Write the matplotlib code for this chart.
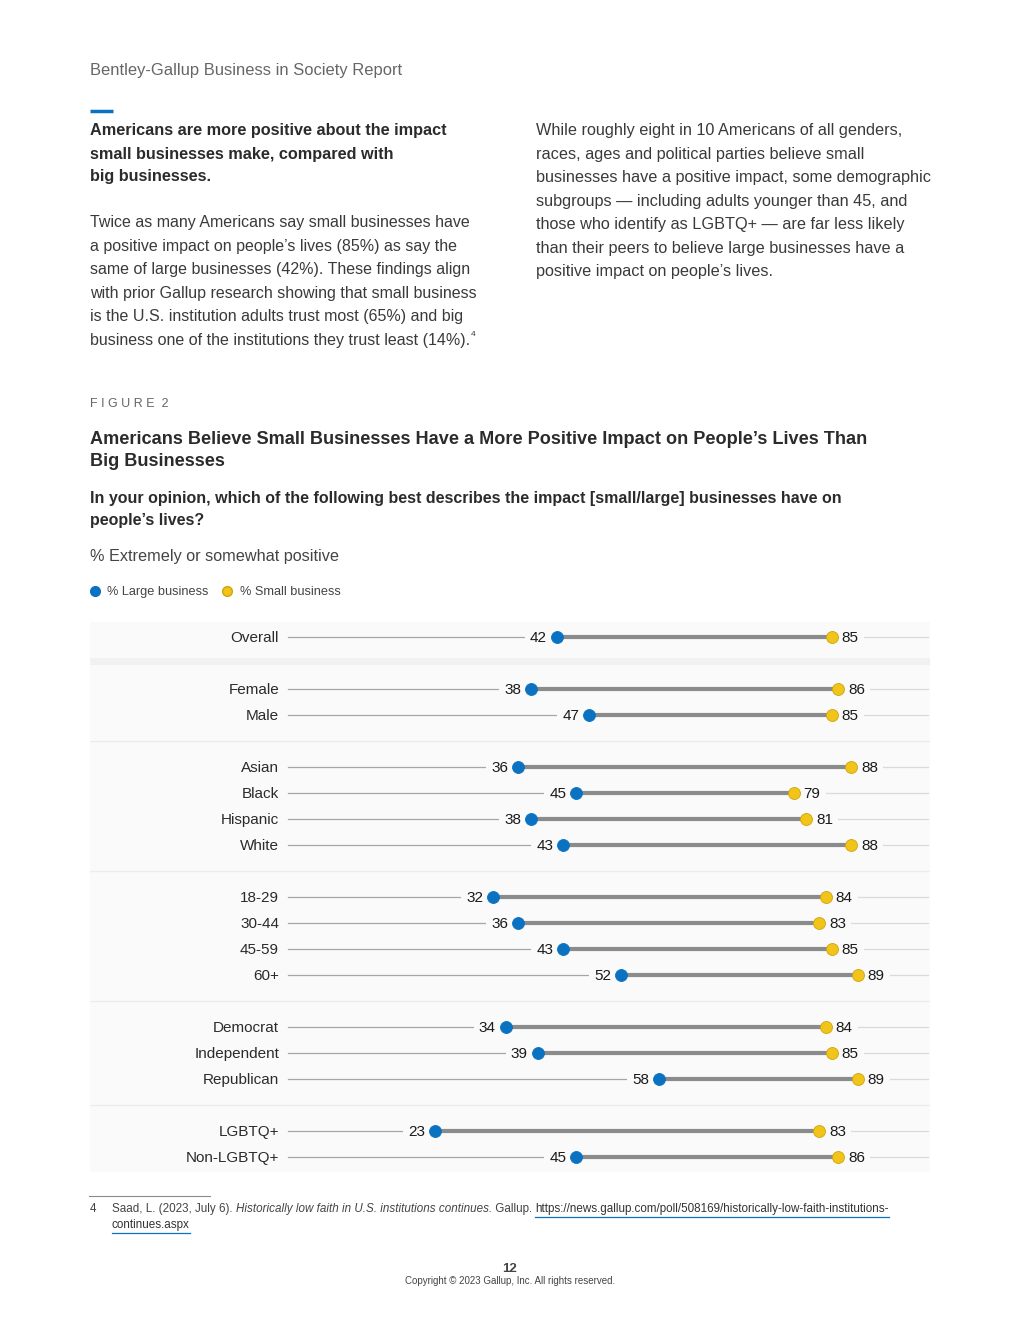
import matplotlib
matplotlib.use("Agg")
import matplotlib.pyplot as plt

plt.rcParams['font.family'] = ['Liberation Sans', 'DejaVu Sans']

# ---------------- data ----------------
categories = ["Overall", "Female", "Male", "Asian", "Black", "Hispanic", "White",
              "18-29", "30-44", "45-59", "60+", "Democrat", "Independent",
              "Republican", "LGBTQ+", "Non-LGBTQ+"]
large_business = [42, 38, 47, 36, 45, 38, 43, 32, 36, 43, 52, 34, 39, 58, 23, 45]
small_business = [85, 86, 85, 88, 79, 81, 88, 84, 83, 85, 89, 84, 85, 89, 83, 86]
group_sizes = [1, 2, 4, 4, 3, 2]
series_names = ["% Large business", "% Small business"]

BLUE = "#0b72c2"
YELLOW = "#f0c419"
YELLOW_EDGE = "#cfa40a"
BAND = "#fafafa"
TXT = "#2b2b2b"

W, H = 1020, 1320
fig = plt.figure(figsize=(W / 100, H / 100), dpi=100)
fig.patch.set_facecolor("white")

page = fig.add_axes([0, 0, 1, 1])
page.set_xlim(0, W)
page.set_ylim(H, 0)
page.axis("off")

fig.canvas.draw()
r = fig.canvas.get_renderer()


def right_edge(t):
    bb = t.get_window_extent(r)
    return page.transData.inverted().transform((bb.x1, 0))[0]


def left_edge(t):
    bb = t.get_window_extent(r)
    return page.transData.inverted().transform((bb.x0, 0))[0]


# ---------------- page text ----------------
page.text(90, 71, "Bentley-Gallup Business in Society Report", fontsize=11.9,
          color="#666666", va="center")
page.plot([90, 113], [111, 111], color=BLUE, lw=2.5, solid_capstyle="butt")

bold_lines = ["Americans are more positive about the impact",
              "small businesses make, compared with",
              "big businesses."]
for i, t in enumerate(bold_lines):
    page.text(90, 131 + 23 * i, t, fontsize=11.7, fontweight="bold", color=TXT,
              va="center")

left_body = ["Twice as many Americans say small businesses have",
             "a positive impact on people\u2019s lives (85%) as say the",
             "same of large businesses (42%). These findings align",
             "with prior Gallup research showing that small business",
             "is the U.S. institution adults trust most (65%) and big",
             "business one of the institutions they trust least (14%)."]
last = None
for i, t in enumerate(left_body):
    last = page.text(90, 223 + 23.4 * i, t, fontsize=11.55, color="#3a3a3a",
                     va="center")
fig.canvas.draw()
page.text(right_edge(last) + 1, 335, "4", fontsize=6, color="#3a3a3a", va="center")

right_body = ["While roughly eight in 10 Americans of all genders,",
              "races, ages and political parties believe small",
              "businesses have a positive impact, some demographic",
              "subgroups \u2014 including adults younger than 45, and",
              "those who identify as LGBTQ+ \u2014 are far less likely",
              "than their peers to believe large businesses have a",
              "positive impact on people\u2019s lives."]
for i, t in enumerate(right_body):
    page.text(536, 131 + 23.4 * i, t, fontsize=11.7, color="#3a3a3a", va="center")

page.text(90, 404, "F I G U R E  2", fontsize=9, color="#666666", va="center")
page.text(90, 440, "Americans Believe Small Businesses Have a More Positive Impact on People\u2019s Lives Than",
          fontsize=13.1, fontweight="bold", color=TXT, va="center")
page.text(90, 461, "Big Businesses", fontsize=13.1, fontweight="bold", color=TXT,
          va="center")
page.text(90, 498, "In your opinion, which of the following best describes the impact [small/large] businesses have on",
          fontsize=11.5, fontweight="bold", color=TXT, va="center")
page.text(90, 520, "people\u2019s lives?", fontsize=11.5, fontweight="bold", color=TXT,
          va="center")
page.text(90, 556, "% Extremely or somewhat positive", fontsize=11.7, color="#444444",
          va="center")

# legend
page.plot([95], [591], "o", ms=7, color=BLUE, mec=BLUE)
page.text(107, 592, series_names[0], fontsize=9.2, color="#444444", va="center")
page.plot([227], [591], "o", ms=7, color=YELLOW, mec=YELLOW_EDGE)
page.text(240, 592, series_names[1], fontsize=9.2, color="#444444", va="center")

# ---------------- chart ----------------
ax_left, ax_right, ax_top, ax_bot = 90, 930, 622, 1172
ax = fig.add_axes([ax_left / W, (H - ax_bot) / H, (ax_right - ax_left) / W,
                   (ax_bot - ax_top) / H])
ax.set_facecolor("none")
ax.axis("off")

px_per_unit = 6.4
zero_px = 288
row_px = 26
first_row_px = 637
ax.set_xlim((ax_left - zero_px) / px_per_unit, (ax_right - zero_px) / px_per_unit)
ax.set_ylim((ax_bot - first_row_px) / row_px, (ax_top - first_row_px) / row_px)

slots = []
separators = []
s = 0
for gi, n in enumerate(group_sizes):
    for k in range(n):
        slots.append(s)
        s += 1
    if gi < len(group_sizes) - 1:
        separators.append(s)
        s += 1

yl = ax.get_ylim()
ax.axhspan(yl[1], yl[0], color=BAND, lw=0, zorder=0)
for i, sep in enumerate(separators):
    if i == 0:
        ax.axhspan(sep - 0.19, sep + 0.08, color="#f1f1f1", lw=0, zorder=0.5)
    else:
        ax.axhline(sep, color="#ececec", lw=1.0, zorder=0.5)

for cat, lv, sv, y in zip(categories, large_business, small_business, slots):
    ax.annotate(cat, (-1.4, y), xytext=(0, -0.8), textcoords="offset points",
                ha="right", va="center", fontsize=11, color=TXT, zorder=5)
    ax.plot([0, lv], [y, y], color="#a6a6a6", lw=0.9, zorder=1)
    ax.plot([sv, 100], [y, y], color="#dadada", lw=0.9, zorder=1)
    ax.annotate(str(lv), (lv, y), xytext=(-7, -0.8), textcoords="offset points",
                ha="right", va="center", fontsize=11, color="#1a1a1a", zorder=2,
                bbox=dict(boxstyle="square,pad=0.35", fc=BAND, ec="none"))
    ax.annotate(str(sv), (sv, y), xytext=(7, -0.8), textcoords="offset points",
                ha="left", va="center", fontsize=11, color="#1a1a1a", zorder=2,
                bbox=dict(boxstyle="square,pad=0.35", fc=BAND, ec="none"))
    ax.plot([lv, sv], [y, y], color="#8a8c8c", lw=3.0, zorder=3,
            solid_capstyle="butt")
    ax.plot([lv], [y], "o", ms=8.6, color=BLUE, mec=BLUE, mew=0.6, zorder=4)
    ax.plot([sv], [y], "o", ms=8.6, color=YELLOW, mec=YELLOW_EDGE, mew=0.6, zorder=4)

# ---------------- footnote & footer ----------------
FN = 8.4
page.plot([89, 210], [1196, 1196], color="#8a8a8a", lw=0.8)
page.text(90, 1209, "4", fontsize=FN, color="#444444", va="center")
t1 = page.text(112, 1209, "Saad, L. (2023, July 6). ", fontsize=FN,
               color="#444444", va="center")
fig.canvas.draw()


def nxt(prev, s, **kw):
    fig.canvas.draw()
    return page.text(right_edge(prev), 1209, s, va="center", **kw)


t2 = nxt(t1, "Historically low faith in U.S. institutions continues.", fontsize=FN,
         color="#444444", style="italic")
t3 = nxt(t2, " Gallup. ", fontsize=FN, color="#444444")
t4 = nxt(t3, "https://news.gallup.com/poll/508169/historically-low-faith-institutions-",
         fontsize=FN, color="#333333")
fig.canvas.draw()
page.plot([left_edge(t4), right_edge(t4)], [1217, 1217], color=BLUE, lw=0.9)
t5 = page.text(112, 1225, "continues.aspx", fontsize=FN, color="#333333",
               va="center")
fig.canvas.draw()
page.plot([left_edge(t5), right_edge(t5)], [1233, 1233], color=BLUE, lw=0.9)

page.text(510, 1269, "12", fontsize=9.5, fontweight="bold", color="#444444",
          ha="center", va="center")
page.text(510, 1281, "Copyright \u00a9 2023 Gallup, Inc. All rights reserved.",
          fontsize=7, color="#444444", ha="center", va="center")

fig.savefig("out.png", dpi=100, facecolor="white")
